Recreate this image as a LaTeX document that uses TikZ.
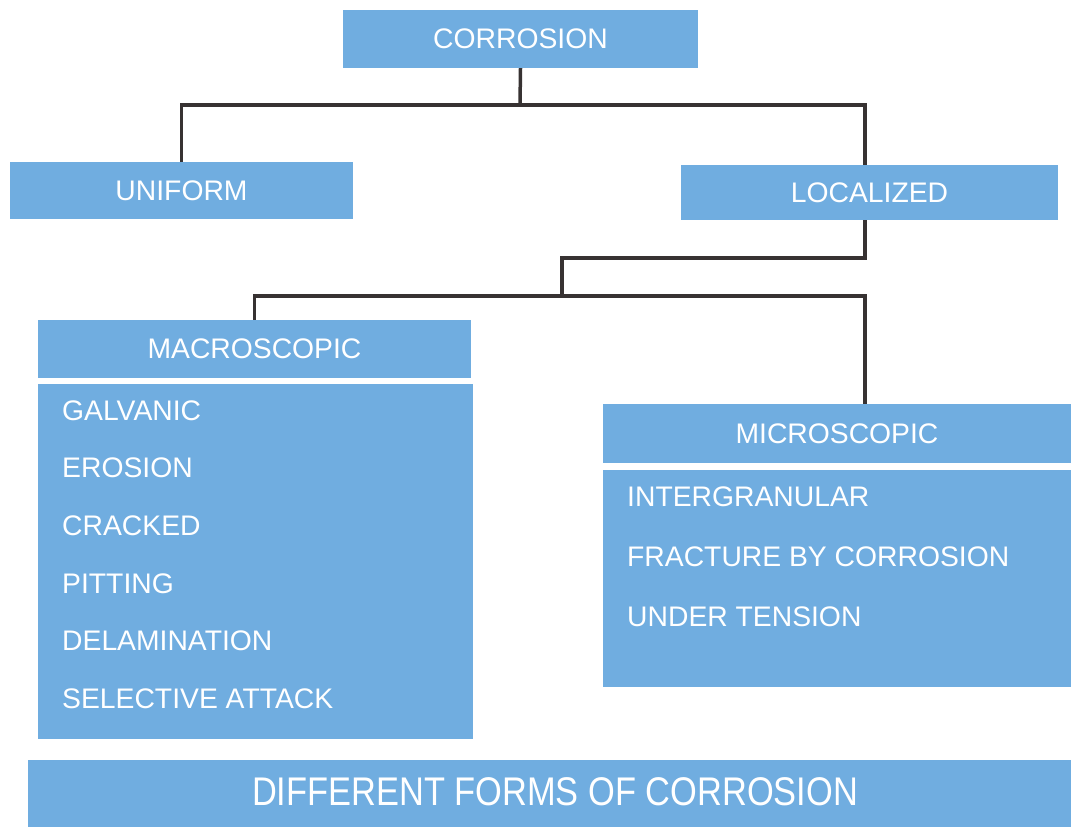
\documentclass[tikz,border=0pt]{standalone}
\usepackage{fontspec}
\setmainfont{Liberation Sans}
\usepackage{tikz}
\definecolor{boxblue}{RGB}{112,173,224}
\definecolor{linkgray}{RGB}{55,50,50}
\tikzset{
  blockbox/.style={fill=boxblue, text=white, inner sep=0pt, font=\fontsize{28.3}{31}\selectfont},
  itemtext/.style={anchor=west, text=white, inner sep=0pt, font=\fontsize{28.3}{31}\selectfont},
  link/.style={draw=linkgray, line width=3.5pt}
}
\begin{document}
\begin{tikzpicture}[x=1pt,y=-1pt]
        \useasboundingbox (0,0) rectangle (1071,827);
        % boxes
        \node[blockbox, minimum width=355, minimum height=58] (corr) at (520.5,39) {CORROSION};
        \node[blockbox, minimum width=343, minimum height=57] (unif) at (181.5,190.5) {UNIFORM};
        \node[blockbox, minimum width=377, minimum height=55] (loc) at (869.5,192.5) {LOCALIZED};
        \node[blockbox, minimum width=433, minimum height=58] (macro) at (254.5,349) {MACROSCOPIC};
        \node[blockbox, minimum width=435, minimum height=355] (macrolist) at (255.5,561.5) {};
        \node[blockbox, minimum width=468, minimum height=59] (micro) at (837,433.5) {MICROSCOPIC};
        \node[blockbox, minimum width=468, minimum height=217] (microlist) at (837,578.5) {};
        \node[fill=boxblue, minimum width=1043, minimum height=67, inner sep=0pt] (title) at (549.5,793.5) {};
        \node[text=white, inner sep=0pt, font=\fontsize{40}{44}\selectfont] (titletext) at (555,792)
          {\scalebox{0.86}[1]{DIFFERENT FORMS OF CORROSION}};
        % list items
        \node[itemtext] (galv) at (62,411) {GALVANIC};
        \node[itemtext] (eros) at (62,468) {EROSION};
        \node[itemtext] (crack) at (62,526) {CRACKED};
        \node[itemtext] (pitt) at (62,584) {PITTING};
        \node[itemtext] (delam) at (62,641) {DELAMINATION};
        \node[itemtext] (selec) at (62,699) {SELECTIVE ATTACK};
        \node[itemtext] (inter) at (627,497) {INTERGRANULAR};
        \node[itemtext] (fract) at (627,557) {FRACTURE BY CORROSION};
        \node[itemtext] (tens) at (627,617) {UNDER TENSION};
        % connectors
        \coordinate (j1) at (520,105);
        \coordinate (j2) at (865,258);
        \coordinate (j3) at (562,296);
        \coordinate (j4) at (865,296);
        \draw[link] (corr.south) -- (j1);
        \draw[link] (unif.north) |- (j1) -| (loc.north -| j2);
        \draw[link] (loc.south -| j2) -- (j2) -| (j3);
        \draw[link] (macro.north) |- (j3) -- (j4) -- (micro.north -| j4);
\end{tikzpicture}
\end{document}
